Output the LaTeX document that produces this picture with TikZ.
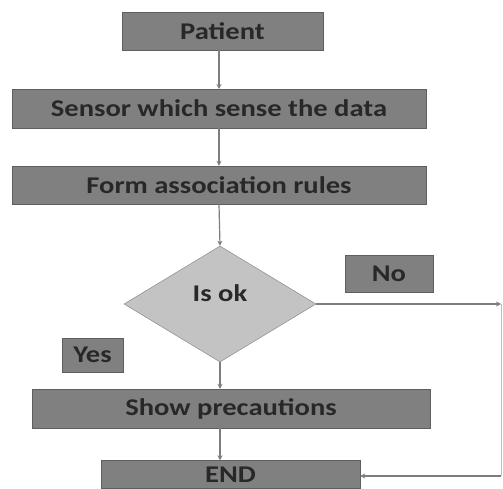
\documentclass[tikz,border=0pt]{standalone}
\usepackage{fontspec}
\setmainfont{Carlito}[FakeStretch=1.19]
\usetikzlibrary{shapes.geometric,arrows.meta}
\definecolor{boxgray}{RGB}{128,128,128}
\definecolor{edgegray}{RGB}{95,95,95}
\definecolor{diagray}{RGB}{195,195,195}
\definecolor{txtgray}{RGB}{40,40,40}
\definecolor{linegray}{RGB}{125,125,125}
\tikzset{
  flowbox/.style={draw=edgegray,fill=boxgray,inner sep=0pt,text=txtgray,
    font=\fontsize{24}{28}\selectfont\bfseries},
  decision/.style={diamond,draw=linegray,fill=diagray,inner sep=0pt,text=txtgray,
    font=\fontsize{24}{28}\selectfont\bfseries},
  flowarrow/.style={draw=linegray,line width=1.2pt,-{Stealth[length=5pt,width=5pt]}}
}

\begin{document}
\begin{tikzpicture}[x=1pt,y=-1pt]
    \useasboundingbox (0,0) rectangle (503,489);
    % boxes
    \node[flowbox,minimum width=201pt,minimum height=38pt] (patient) at (222.5,31) {Patient};
    \node[flowbox,minimum width=414pt,minimum height=39pt] (sensor) at (219,108.5) {Sensor which sense the data};
    \node[flowbox,minimum width=414pt,minimum height=38pt] (rules) at (219,185) {Form association rules};
    \node[decision,minimum width=192pt,minimum height=116pt] (isok) at (220,304) {\raisebox{22pt}{Is ok}};
    \node[flowbox,minimum width=88pt,minimum height=37pt] (no) at (389,273.5) {No};
    \node[flowbox,minimum width=61pt,minimum height=34pt] (yes) at (92.5,355) {Yes};
    \node[flowbox,minimum width=398pt,minimum height=39pt] (precaution) at (231,408.5) {Show precautions};
    \node[flowbox,minimum width=259pt,minimum height=28pt] (finish) at (230.5,474.5) {END};
    \coordinate (noturn) at (501,304);
    \coordinate (endturn) at (501,476);
    % connectors
    \draw[flowarrow] (219,50) -- (219,89);
    \draw[flowarrow] (sensor.south -| 219,0) -- (rules.north -| 219,0);
    \draw[flowarrow] (rules.south -| 219,0) -- (isok.north);
    \draw[flowarrow] (isok.south) -- (precaution.north -| isok.south);
    \draw[flowarrow] (precaution.south -| isok.south) -- (finish.north -| isok.south);
    \draw[flowarrow] (isok.east) -- (noturn);
    \draw[linegray!50,line width=0.6pt] (noturn) -- (endturn);
    \draw[flowarrow] (endturn) -- (finish.east |- endturn);
\end{tikzpicture}
\end{document}
